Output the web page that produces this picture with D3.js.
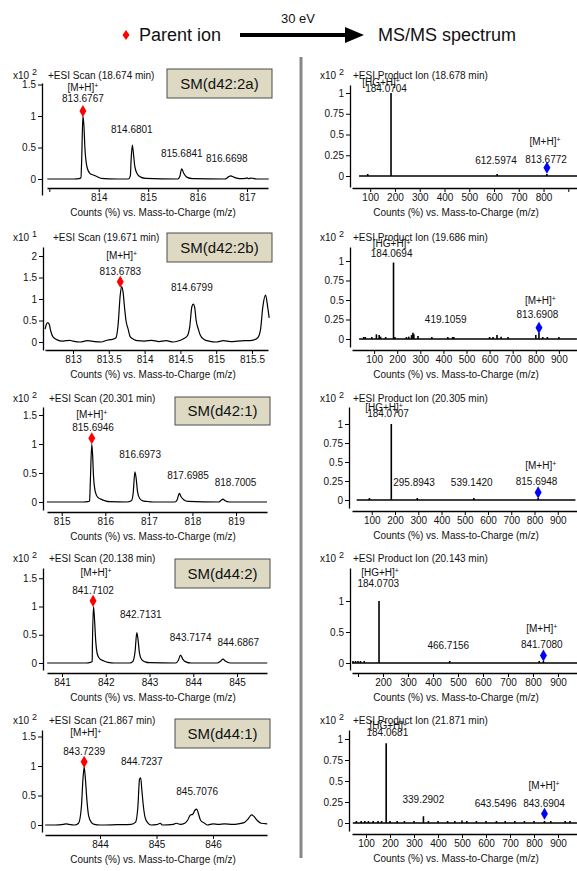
<!DOCTYPE html>
<html>
<head>
<meta charset="utf-8">
<script src="https://cdn.jsdelivr.net/npm/d3@7"></script>
<style>
body { margin: 0; background: #fff; }
text { font-family: "Liberation Sans", Arial, sans-serif; fill: #111; }
</style>
</head>
<body>
<script>
// ---- data ----
var compounds = ["SM(d42:2a)", "SM(d42:2b)", "SM(d42:1)", "SM(d44:2)", "SM(d44:1)"]
var scanTitles = ["+ESI Scan (18.674 min)", "+ESI Scan (19.671 min)", "+ESI Scan (20.301 min)",
                  "+ESI Scan (20.138 min)", "+ESI Scan (21.867 min)"]
var productTitles = ["+ESI Product Ion (18.678 min)", "+ESI Product Ion (19.686 min)",
                     "+ESI Product Ion (20.305 min)", "+ESI Product Ion (20.143 min)",
                     "+ESI Product Ion (21.871 min)"]
var scanExp = ["2", "1", "2", "2", "2"]
var productExp = ["2", "2", "2", "2", "2"]
var xTitle = "Counts (%) vs. Mass-to-Charge (m/z)"

var scanTicks = [[813, 814, 815, 816, 817],
                 [813, 813.5, 814, 814.5, 815, 815.5],
                 [815, 816, 817, 818, 819],
                 [841, 842, 843, 844, 845],
                 [844, 845, 846]]
var scanTickLabels = [["", "814", "815", "816", "817"],
                      ["813", "813.5", "814", "814.5", "815", "815.5"],
                      ["815", "816", "817", "818", "819"],
                      ["841", "842", "843", "844", "845"],
                      ["844", "845", "846"]]
var scanYTicks = [[0, 0.5, 1, 1.5], [0, 0.5, 1, 1.5, 2], [0, 0.5, 1, 1.5], [0, 0.5, 1, 1.5], [0, 0.5, 1, 1.5]]

var productTicks = [100, 200, 300, 400, 500, 600, 700, 800, 900]
var productTickLabels = [["100", "200", "300", "400", "500", "600", "700", "800", ""],
                         ["100", "200", "300", "400", "500", "600", "700", "800", "900"],
                         ["100", "200", "300", "400", "500", "600", "700", "800", "900"],
                         ["", "200", "300", "400", "500", "600", "700", "800", "900"],
                         ["100", "200", "300", "400", "500", "600", "700", "800", "900"]]
var productYTicks = [[0, 0.25, 0.5, 0.75, 1], [0, 0.25, 0.5, 0.75, 1], [0, 0.25, 0.5, 0.75, 1],
                     [0, 0.5, 1], [0, 0.25, 0.5, 0.75, 1]]

// profile spectra (m/z, counts)
var scan1 = [[812.96,0],[813.5,0],[813.6,0.005],[813.64,0.02],[813.655,0.3],[813.68,1.0],[813.70,0.85],
  [813.72,0.5],[813.76,0.2],[813.82,0.09],[813.9,0.06],[813.96,0.04],[814.05,0.01],[814.2,0.003],[814.6,0],
  [814.64,0.05],[814.655,0.3],[814.68,0.54],[814.70,0.42],[814.73,0.2],[814.78,0.08],[814.85,0.03],[814.95,0.01],
  [815.6,0],[815.64,0.04],[815.68,0.16],[815.72,0.09],[815.78,0.03],[815.9,0.005],[816.55,0],[816.62,0.03],
  [816.67,0.05],[816.73,0.03],[816.85,0.005],[816.98,0.01],[817.0,0.02],[817.03,0.005],[817.08,0.015],
  [817.12,0.01],[817.2,0],[817.44,0]]
var scan2 = [[812.61,0.3],[812.63,0.42],[812.65,0.45],[812.67,0.4],[812.69,0.25],[812.72,0.12],[812.78,0.05],
  [812.85,0.02],[812.9,0.03],[812.95,0.04],[813.0,0.02],[813.1,0],[813.2,0.03],[813.3,0.01],[813.4,0],
  [813.45,0.03],[813.5,0.05],[813.55,0.06],[813.6,0.1],[813.63,0.4],[813.66,1.1],[813.68,1.29],[813.70,1.15],
  [813.72,0.8],[813.74,0.5],[813.77,0.3],[813.8,0.12],[813.85,0.06],[813.9,0.03],[814.0,0.02],[814.1,0.04],
  [814.2,0.01],[814.3,0.03],[814.4,0],[814.5,0.04],[814.55,0.08],[814.6,0.15],[814.63,0.35],[814.66,0.82],
  [814.68,0.88],[814.70,0.8],[814.72,0.5],[814.75,0.3],[814.78,0.15],[814.83,0.06],[814.9,0.02],[815.0,0],
  [815.1,0.03],[815.2,0.01],[815.3,0.02],[815.4,0.03],[815.5,0.04],[815.58,0.1],[815.62,0.3],[815.65,0.8],
  [815.69,1.09],[815.72,0.8],[815.74,0.56]]
var scan3 = [[814.66,0],[815.5,0],[815.6,0.005],[815.64,0.02],[815.655,0.3],[815.69,1.0],[815.71,0.8],
  [815.73,0.45],[815.77,0.18],[815.83,0.08],[815.9,0.05],[816.0,0.02],[816.1,0.005],[816.5,0],[816.6,0.02],
  [816.64,0.15],[816.68,0.52],[816.71,0.4],[816.74,0.18],[816.79,0.06],[816.86,0.02],[816.95,0.01],[817.1,0],
  [817.6,0],[817.65,0.04],[817.7,0.15],[817.74,0.09],[817.8,0.04],[817.9,0.01],[818.6,0],[818.66,0.03],
  [818.7,0.05],[818.75,0.02],[818.85,0],[819.71,0]]
var scan4 = [[840.66,0],[841.55,0],[841.65,0.01],[841.69,0.03],[841.695,0.3],[841.72,1.0],[841.745,0.75],
  [841.77,0.4],[841.81,0.15],[841.87,0.07],[841.95,0.04],[842.05,0.01],[842.2,0],[842.55,0],[842.62,0.03],
  [842.67,0.2],[842.71,0.54],[842.74,0.4],[842.77,0.18],[842.82,0.06],[842.9,0.02],[843.0,0.005],[843.6,0],
  [843.66,0.05],[843.71,0.14],[843.76,0.07],[843.83,0.02],[843.95,0],[844.55,0],[844.62,0.03],[844.68,0.07],
  [844.74,0.03],[844.85,0],[845.69,0]]
var scan5 = [[843.03,0],[843.2,0],[843.35,0.01],[843.4,0.02],[843.45,0.01],[843.55,0],[843.62,0.03],
  [843.67,0.3],[843.70,0.8],[843.72,0.98],[843.74,0.8],[843.77,0.4],[843.8,0.15],[843.85,0.04],[843.9,0.01],
  [844.0,0],[844.3,0.005],[844.55,0.01],[844.63,0.05],[844.67,0.3],[844.70,0.78],[844.72,0.8],[844.74,0.6],
  [844.77,0.3],[844.8,0.12],[844.85,0.03],[844.9,0],[845.0,0.005],[845.07,0.03],[845.1,0],[845.3,0.01],
  [845.35,0.03],[845.42,0.01],[845.5,0.03],[845.55,0.08],[845.6,0.17],[845.64,0.18],[845.68,0.25],
  [845.71,0.27],[845.74,0.2],[845.78,0.08],[845.85,0.03],[845.9,0],[846.0,0.02],[846.1,0.01],[846.2,0.02],
  [846.35,0.01],[846.45,0.02],[846.55,0.04],[846.62,0.1],[846.68,0.17],[846.72,0.15],[846.78,0.08],
  [846.85,0.03],[846.96,0.02]]
var scans = [scan1, scan2, scan3, scan4, scan5]

// product ion sticks (m/z, counts)
var prod1 = [[90,0.01],[184.07,1.0],[612.6,0.005],[813.68,0.02]]
var prod2 = [[55,0.02],[62,0.01],[90,0.02],[110,0.06],[122,0.05],[128,0.03],[150,0.01],[184.07,0.98],
  [190,0.02],[240,0.01],[250,0.03],[262,0.05],[268,0.08],[272,0.06],[290,0.04],[350,0.01],[419.1,0.02],
  [440,0.01],[445,0.01],[600,0.01],[615,0.02],[632,0.05],[650,0.03],[680,0.01],[800,0.05],[813.69,0.08],
  [830,0.01],[850,0.01],[900,0.01]]
var prod3 = [[90,0.01],[184.07,1.0],[295.9,0.003],[539.1,0.003],[815.69,0.01]]
var prod4 = [[80,0.02],[90,0.01],[100,0.015],[110,0.01],[125,0.01],[184.07,1.0],[466.7,0.003],[825,0.01],[841.71,0.02]]
var prod5 = [[60,0.01],[80,0.01],[95,0.015],[110,0.01],[130,0.01],[150,0.01],[165,0.015],[184.07,0.95],
  [200,0.01],[230,0.01],[260,0.01],[300,0.01],[339.29,0.08],[360,0.01],[400,0.01],[440,0.01],[470,0.01],
  [500,0.03],[520,0.01],[560,0.01],[600,0.01],[643.55,0.015],[680,0.01],[720,0.01],[760,0.01],[800,0.01],
  [843.69,0.01],[870,0.01],[930,0.015],[950,0.015]]
var prods = [prod1, prod2, prod3, prod4, prod5]
var prodRange = [[55, 936], [35, 978], [35, 976], [76, 976], [45, 979]]

// parent ion markers (m/z, level)
var scanParent = [[813.68,1.08],[813.66,1.4],[815.69,1.1],[841.71,1.1],[843.72,1.07]]
var prodParent = [[813.68,0.1],[813.69,0.145],[815.69,0.1],[841.71,0.12],[843.69,0.11]]

// peak labels (text, m/z, level of the text centre)
var scanLabels = [
  [["[M+H]+",813.68,1.46],["813.6767",813.68,1.27],["814.6801",814.67,0.79],["815.6841",815.68,0.41],["816.6698",816.59,0.32]],
  [["[M+H]+",813.68,2.02],["813.6783",813.66,1.65],["814.6799",814.66,1.26]],
  [["[M+H]+",815.69,1.51],["815.6946",815.72,1.28],["816.6973",816.80,0.82],["817.6985",817.90,0.45],["818.7005",818.99,0.33]],
  [["[M+H]+",841.78,1.60],["841.7102",841.71,1.29],["842.7131",842.80,0.86],["843.7174",843.94,0.45],["844.6867",845.03,0.36]],
  [["[M+H]+",843.75,1.56],["843.7239",843.72,1.25],["844.7237",844.74,1.07],["845.7076",845.72,0.56]]]
var prodLabels = [
  [["[HG+H]+",144,1.13],["184.0704",164,1.06],["612.5974",608,0.19],["[M+H]+",806,0.42],["813.6772",810,0.2]],
  [["[HG+H]+",176,1.22],["184.0694",176,1.10],["419.1059",410,0.25],["[M+H]+",820,0.5],["813.6908",807,0.31]],
  [["[HG+H]+",153,1.22],["184.0707",170,1.14],["295.8943",282,0.23],["539.1420",530,0.23],["[M+H]+",827,0.46],["815.6948",809,0.24]],
  [["[HG+H]+",188,1.46],["184.0703",181,1.29],["466.7156",461,0.29],["[M+H]+",835,0.56],["841.7080",835,0.30]],
  [["[HG+H]+",193,1.155],["184.0681",189,1.075],["339.2902",339,0.28],["643.5496",640,0.235],["[M+H]+",842,0.45],["843.6904",842,0.235]]]

// ---- layout (pixels) ----
var scanLayout = [
  {top:79, axisX:42, xL:47, xR:268, xRef:[[813,49.3],[817,247]], axisY:188, y0:179, y1:116, yTop:83, yBot:195, titleX:48, box:[167,69,105,29]},
  {top:241, axisX:43, xL:45, xR:268, xRef:[[813,73],[815.5,252]], axisY:350, y0:342, y1:299, yTop:247, yBot:350, titleX:53, box:[167,233,105,29]},
  {top:402, axisX:43, xL:47, xR:267, xRef:[[815,61.7],[819,236]], axisY:512, y0:502, y1:444, yTop:407, yBot:510, titleX:49, box:[175,397,95,28]},
  {top:562, axisX:43, xL:47, xR:267, xRef:[[841,62],[845,237]], axisY:673, y0:663, y1:606.5, yTop:568, yBot:670, titleX:49, box:[175,559,95,29]},
  {top:724, axisX:42, xL:45, xR:267, xRef:[[844,100],[846,213]], axisY:835, y0:825, y1:766, yTop:730, yBot:832, titleX:49, box:[175,719,95,29]}
]
var prodLayout = [
  {top:79, axisX:350, xL:352, xR:577, xRef:[[100,370.2],[900,568.3]], axisY:188, y0:176, y1:93, yTop:85, yBot:187, titleX:353},
  {top:241, axisX:350, xL:352, xR:577, xRef:[[100,374.1],[900,558.9]], axisY:350, y0:339, y1:261, yTop:247, yBot:347, titleX:353},
  {top:402, axisX:349, xL:352, xR:577, xRef:[[100,371.75],[900,557.75]], axisY:511, y0:500, y1:424, yTop:407, yBot:508, titleX:353},
  {top:562, axisX:350, xL:352, xR:577, xRef:[[200,383],[900,558]], axisY:673, y0:663, y1:601, yTop:568, yBot:670, titleX:353},
  {top:724, axisX:349, xL:352, xR:577, xRef:[[100,366],[900,558]], axisY:834, y0:823, y1:739, yTop:730, yBot:831, titleX:353}
]

var svg = d3.select("body")
  .append("svg")
  .attr("width", 577)
  .attr("height", 871)

// ---- header ----
svg.append("path")
  .attr("d", "M0,-5 L3.5,0 L0,5 L-3.5,0 Z")
  .attr("transform", "translate(126,35)")
  .attr("fill", "#ff0000")
svg.append("text").attr("x", 139).attr("y", 41).style("font-size", "18px").text("Parent ion")
svg.append("line")
  .attr("x1", 240).attr("x2", 348).attr("y1", 35).attr("y2", 35)
  .attr("stroke", "#000").attr("stroke-width", 4)
svg.append("path").attr("d", "M345,27 L364,35 L345,43 Z").attr("fill", "#000")
svg.append("text").attr("x", 298).attr("y", 23).attr("text-anchor", "middle").style("font-size", "13px").text("30 eV")
svg.append("text").attr("x", 378).attr("y", 41).style("font-size", "18px").text("MS/MS spectrum")

// divider
svg.append("line")
  .attr("x1", 301).attr("x2", 301).attr("y1", 57).attr("y2", 858)
  .attr("stroke", "#888").attr("stroke-width", 3)

var addLabel = function(g, txt, x, y, size)
{
  var t = g.append("text")
    .attr("x", x).attr("y", y)
    .attr("dy", "0.35em")
    .attr("text-anchor", "middle")
    .style("font-size", size + "px")
  if (txt.slice(-1) == "+") {
    t.append("tspan").text(txt.slice(0, -1))
    t.append("tspan").attr("dy", "-0.4em").style("font-size", "7px").text("+")
  } else {
    t.text(txt)
  }
}

var makeScales = function(L)
{
  var xS = d3.scaleLinear()
    .domain([L.xRef[0][0], L.xRef[1][0]])
    .range([L.xRef[0][1], L.xRef[1][1]])
  xS.domain([xS.invert(L.xL), xS.invert(L.xR)]).range([L.xL, L.xR])
  var yS = d3.scaleLinear().domain([0, 1]).range([L.y0, L.y1])
  yS.domain([yS.invert(L.yBot), yS.invert(L.yTop)]).range([L.yBot, L.yTop])
  return {x: xS, y: yS}
}

var drawAxes = function(g, L, s, ticks, labels, yticks)
{
  var xAxis = d3.axisBottom(s.x)
    .tickValues(ticks)
    .tickFormat(function(d, i) { return labels[i] })
    .tickSize(4).tickSizeOuter(0).tickPadding(2)
  var yAxis = d3.axisLeft(s.y)
    .tickValues(yticks)
    .tickFormat(function(d) { return String(d) })
    .tickSize(4).tickSizeOuter(0).tickPadding(2)

  var gx = g.append("g")
    .attr("transform", "translate(0," + L.axisY + ")")
    .call(xAxis)
  var gy = g.append("g")
    .attr("transform", "translate(" + L.axisX + ",0)")
    .call(yAxis)
  ;[gx, gy].forEach(function(a) {
    a.attr("font-family", null).attr("font-size", null)
    a.selectAll("text").style("font-size", "10px").attr("fill", "#111")
    a.select(".domain").attr("stroke", "#000").attr("stroke-width", 1.3)
    a.selectAll(".tick line").attr("stroke", "#000")
  })
}

var drawHeader = function(g, L, exp, title)
{
  var t = g.append("text").attr("x", 13).attr("y", L.top).style("font-size", "10px")
  t.append("tspan").text("x10 ")
  t.append("tspan").attr("dy", "-4").style("font-size", "9px").text(exp)
  g.append("text").attr("x", L.titleX).attr("y", L.top).style("font-size", "10px").text(title)
}

// ---- left column: full scans ----
scans.forEach(function(data, i)
{
  var L = scanLayout[i]
  var s = makeScales(L)
  var g = svg.append("g").attr("class", "scan")

  drawAxes(g, L, s, scanTicks[i], scanTickLabels[i], scanYTicks[i])
  drawHeader(g, L, scanExp[i], scanTitles[i])

  g.append("text")
    .attr("x", 153).attr("y", L.axisY + 28)
    .attr("text-anchor", "middle")
    .style("font-size", "10px")
    .text(xTitle)

  var line = d3.line()
    .x(function(d) { return s.x(d[0]) })
    .y(function(d) { return s.y(d[1]) })
    .curve(d3.curveMonotoneX)
  g.append("path")
    .datum(data)
    .attr("d", line)
    .attr("fill", "none")
    .attr("stroke", "#000")
    .attr("stroke-width", 1.2)

  g.append("path")
    .attr("d", d3.symbol().type(d3.symbolDiamond).size(42))
    .attr("transform", "translate(" + s.x(scanParent[i][0]) + "," + s.y(scanParent[i][1]) + ")")
    .attr("fill", "#ff0000")

  scanLabels[i].forEach(function(d) {
    addLabel(g, d[0], s.x(d[1]), s.y(d[2]), 10)
  })

  var b = L.box
  g.append("rect")
    .attr("x", b[0]).attr("y", b[1]).attr("width", b[2]).attr("height", b[3])
    .attr("fill", "#ddd9c3").attr("stroke", "#4d4d4d").attr("stroke-width", 1)
  g.append("text")
    .attr("x", b[0] + b[2] / 2).attr("y", b[1] + b[3] / 2)
    .attr("dy", "0.36em")
    .attr("text-anchor", "middle")
    .style("font-size", "15px")
    .text(compounds[i])
})

// ---- right column: product ion spectra ----
prods.forEach(function(data, i)
{
  var L = prodLayout[i]
  var s = makeScales(L)
  var g = svg.append("g").attr("class", "product")

  drawAxes(g, L, s, productTicks, productTickLabels[i], productYTicks[i])
  var t = g.append("text").attr("x", 320).attr("y", L.top).style("font-size", "10px")
  t.append("tspan").text("x10 ")
  t.append("tspan").attr("dy", "-4").style("font-size", "9px").text(productExp[i])
  g.append("text").attr("x", L.titleX).attr("y", L.top).style("font-size", "10px").text(productTitles[i])

  g.append("text")
    .attr("x", 456).attr("y", L.axisY + 28)
    .attr("text-anchor", "middle")
    .style("font-size", "10px")
    .text(xTitle)

  // baseline of the stick spectrum
  g.append("line")
    .attr("x1", s.x(prodRange[i][0])).attr("x2", s.x(prodRange[i][1]))
    .attr("y1", s.y(0)).attr("y2", s.y(0))
    .attr("stroke", "#000").attr("stroke-width", 1.3)

  g.selectAll("line.stick")
    .data(data)
    .enter()
    .append("line")
    .attr("class", "stick")
    .attr("x1", function(d) { return s.x(d[0]) })
    .attr("x2", function(d) { return s.x(d[0]) })
    .attr("y1", s.y(0))
    .attr("y2", function(d) { return Math.min(s.y(d[1]), s.y(0) - 2) })
    .attr("stroke", "#000")
    .attr("stroke-width", 1.6)

  g.append("path")
    .attr("d", d3.symbol().type(d3.symbolDiamond).size(42))
    .attr("transform", "translate(" + s.x(prodParent[i][0]) + "," + s.y(prodParent[i][1]) + ")")
    .attr("fill", "#0000ff")

  prodLabels[i].forEach(function(d) {
    addLabel(g, d[0], s.x(d[1]), s.y(d[2]), 10)
  })
})
</script>
</body>
</html>
